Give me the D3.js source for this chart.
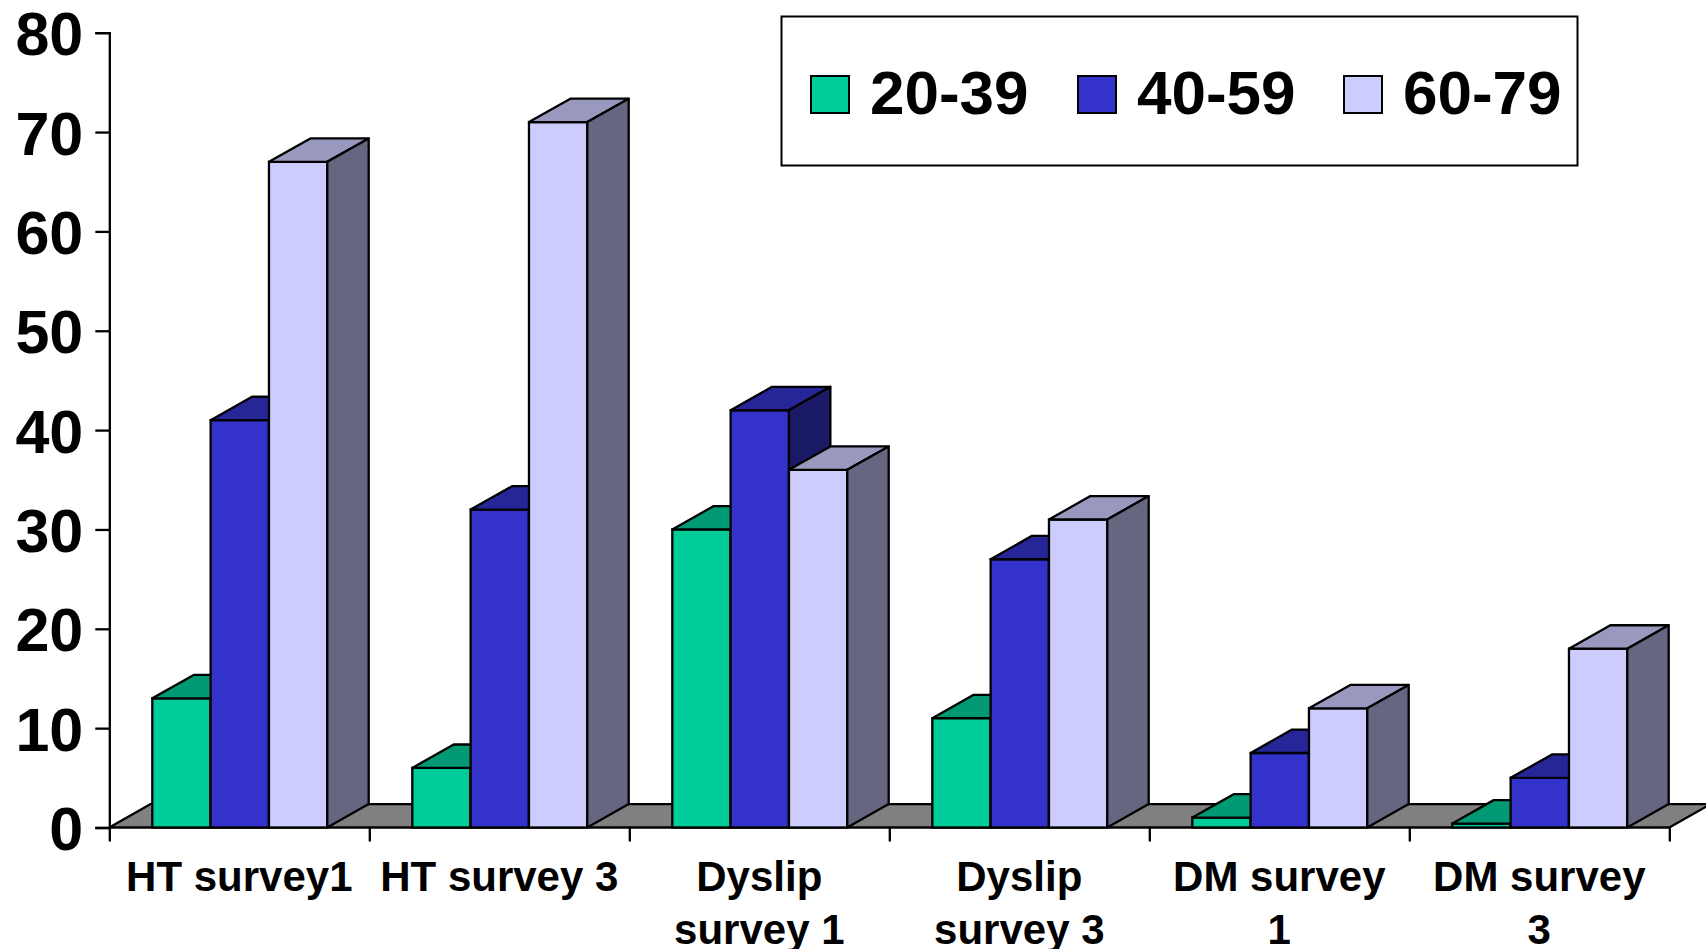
<!DOCTYPE html>
<html>
<head>
<meta charset="utf-8">
<script src="https://cdn.jsdelivr.net/npm/d3@7"></script>
<style>
  html, body { margin: 0; padding: 0; background: #ffffff; }
  svg { display: block; }
  text { font-family: "Liberation Sans", Arial, sans-serif; font-weight: bold; fill: #000; }
</style>
</head>
<body>
<svg id="chart" width="1706" height="949"></svg>
<script>
// Prevalence by age group across surveys
const categories = ["HT survey1", "HT survey 3", "Dyslip survey 1", "Dyslip survey 3", "DM survey 1", "DM survey 3"];
const categoryLines = [["HT survey1"], ["HT survey 3"], ["Dyslip", "survey 1"], ["Dyslip", "survey 3"], ["DM survey", "1"], ["DM survey", "3"]];
const seriesNames = ["20-39", "40-59", "60-79"];
const age20to39 = [13, 6, 30, 11, 1, 0.4];
const age40to59 = [41, 32, 42, 27, 7.5, 5];
const age60to79 = [67, 71, 36, 31, 12, 18];
const yTicks = [0, 10, 20, 30, 40, 50, 60, 70, 80];

const seriesValues = [age20to39, age40to59, age60to79];
const frontColors = ["#00CC99", "#3333CC", "#CCCCFF"];

const svg = d3.select("#chart");

// plot geometry
const left = 109.3, right = 1669.3;
const y0px = 827.5, yTopPx = 32.7;
const depth = { dx: 41.4, dy: -23.4 };
const stroke = "#000", sw = 2.3;

const x = d3.scaleBand().domain(categories).range([left, right]).padding(0);
const xInner = d3.scaleBand().domain(seriesNames).range([43, 43 + 175]).padding(0);
const y = d3.scaleLinear().domain([0, 80]).range([y0px, yTopPx]);

const shade = (c, k) => {
  const r = d3.rgb(c);
  return d3.rgb(r.r * k, r.g * k, r.b * k).formatHex();
};

// floor
svg.append("polygon")
  .attr("points", [
    [left, y0px], [left + depth.dx, y0px + depth.dy],
    [right + depth.dx, y0px + depth.dy], [right, y0px]
  ].map(p => p.join(",")).join(" "))
  .attr("fill", "#808080")
  .attr("stroke", stroke)
  .attr("stroke-width", sw)
  .attr("stroke-linejoin", "round");

// 3D columns
const bars = [];
categories.forEach((cat, ci) => {
  seriesNames.forEach((s, si) => {
    bars.push({ cat, ci, s, si, v: seriesValues[si][ci] });
  });
});

const g = svg.append("g");
bars.forEach(d => {
  const bx = x(d.cat) + xInner(d.s);
  const bw = xInner.bandwidth();
  const yv = y(d.v);
  const yb = y(0);
  const col = frontColors[d.si];
  const bar = g.append("g");
  bar.append("rect")
    .attr("x", bx).attr("y", yv)
    .attr("width", bw).attr("height", yb - yv)
    .attr("fill", col).attr("stroke", stroke).attr("stroke-width", sw);
  bar.append("polygon")
    .attr("points", [[bx, yv], [bx + depth.dx, yv + depth.dy], [bx + bw + depth.dx, yv + depth.dy], [bx + bw, yv]]
      .map(p => p.join(",")).join(" "))
    .attr("fill", shade(col, 0.75)).attr("stroke", stroke).attr("stroke-width", sw)
    .attr("stroke-linejoin", "round");
  bar.append("polygon")
    .attr("points", [[bx + bw, yv], [bx + bw + depth.dx, yv + depth.dy], [bx + bw + depth.dx, yb + depth.dy], [bx + bw, yb]]
      .map(p => p.join(",")).join(" "))
    .attr("fill", shade(col, 0.5)).attr("stroke", stroke).attr("stroke-width", sw)
    .attr("stroke-linejoin", "round");
});

// y axis
const yAxis = d3.axisLeft(y).tickValues(yTicks).tickSize(14).tickPadding(12).tickFormat(d3.format("d"));
const yg = svg.append("g").attr("transform", `translate(${left},0)`).call(yAxis);
yg.select(".domain").attr("stroke", stroke).attr("stroke-width", sw);
yg.selectAll(".tick line").attr("stroke", stroke).attr("stroke-width", sw);
yg.selectAll(".tick text")
  .attr("font-size", 61)
  .attr("font-family", "Liberation Sans, Arial, sans-serif")
  .attr("font-weight", "bold")
  .attr("fill", "#000")
  .attr("dy", "0.36em");

// category boundary ticks
const xi = d3.scaleLinear().domain([0, categories.length]).range([left, right]);
const xAxis = d3.axisBottom(xi).tickValues(d3.range(categories.length + 1)).tickSize(14).tickFormat("");
const xg = svg.append("g").attr("transform", `translate(0,${y0px})`).call(xAxis);
xg.select(".domain").remove();
xg.selectAll(".tick line").attr("stroke", stroke).attr("stroke-width", sw);

// category labels
categoryLines.forEach((lines, ci) => {
  const cx = x(categories[ci]) + x.bandwidth() / 2;
  const t = svg.append("text").attr("text-anchor", "middle").attr("font-size", 42);
  lines.forEach((ln, li) => {
    t.append("tspan").attr("x", cx).attr("y", 891 + li * 53).text(ln);
  });
});

// legend
const legend = svg.append("g");
legend.append("rect")
  .attr("x", 781.5).attr("y", 16.5).attr("width", 796).attr("height", 149)
  .attr("fill", "#fff").attr("stroke", stroke).attr("stroke-width", 2);
const legendX = [811, 1078, 1344];
seriesNames.forEach((s, i) => {
  legend.append("rect")
    .attr("x", legendX[i]).attr("y", 76).attr("width", 38).attr("height", 37)
    .attr("fill", frontColors[i]).attr("stroke", stroke).attr("stroke-width", 2);
  legend.append("text")
    .attr("x", legendX[i] + 59).attr("y", 114)
    .attr("font-size", 62)
    .text(s);
});
</script>
</body>
</html>
